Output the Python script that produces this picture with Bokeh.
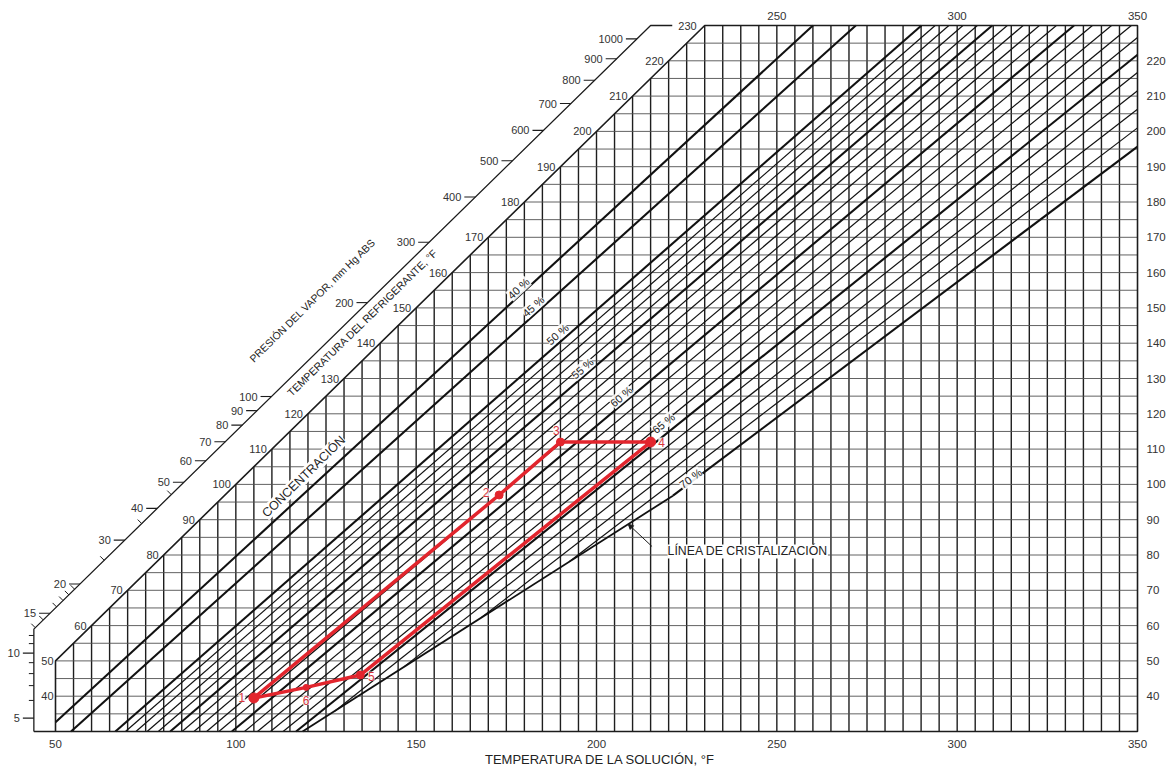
import math
import numpy as np
from bokeh.plotting import figure
from bokeh.models import Range1d, ColumnDataSource, LabelSet, Arrow, NormalHead
from bokeh.core.properties import value
from bokeh.embed import file_html
from bokeh.resources import INLINE

# ---------------- data ----------------
# concentration lines (% LiBr): start and end (solution temp °F, refrigerant temp °F)
conc_pct = [40, 45, 50, 51, 52, 53, 54, 55, 56, 57, 58, 59, 60, 61, 62, 63, 64, 65, 66, 67, 68, 69, 70]
conc_x0 = [50.0, 54.3, 66.6, 69.4, 72.3, 75.4, 78.5, 81.8, 85.1, 88.4, 91.9, 95.3, 98.9, 102.4,
           106.0, 109.6, 113.1, 116.7, 127.5, 146.6, 168.0, 192.4, 221.2]
conc_y0 = [32.6, 30.0, 30.0, 30.0, 30.0, 30.0, 30.0, 30.0, 30.0, 30.0, 30.0, 30.0, 30.0, 30.0,
           30.0, 30.0, 30.0, 30.0, 35.8, 48.3, 62.2, 78.1, 96.8]
conc_x1 = [260.0, 271.9, 290.1, 293.9, 297.7, 301.6, 305.6, 309.7, 313.9, 318.3, 322.8, 327.5, 332.4,
           337.5, 342.8, 348.3, 350.0, 350.0, 350.0, 350.0, 350.0, 350.0, 350.0]
conc_y1 = [230.0, 230.0, 230.0, 230.0, 230.0, 230.0, 230.0, 230.0, 230.0, 230.0, 230.0, 230.0, 230.0,
           230.0, 230.0, 230.0, 226.6, 221.7, 216.7, 211.5, 206.3, 201.0, 195.7]
bold_pct = [40, 45, 50, 55, 60, 65, 70]
pct_label_x = [178.4, 182.5, 189.2, 196.1, 206.9, 218.6, 226.1]
pct_label_y = [155.5, 150.4, 142.5, 132.8, 124.9, 117.3, 101.7]

# crystallization line
cryst_x = [118.5, 221.2]
cryst_y = [30.0, 96.8]

# absorption cycle (red)
cycle_id = ["1", "2", "3", "4", "5", "6"]
cycle_x = [105.0, 173.0, 190.0, 215.0, 134.5, 119.5]
cycle_y = [39.5, 97.0, 112.0, 112.0, 46.0, 42.5]

# vapour-pressure scale (mm Hg) and the refrigerant temperature (°F) at which each tick sits
p_major = [5, 10, 15, 20, 30, 40, 50, 60, 70, 80, 90, 100, 200, 300, 400, 500, 600, 700, 800, 900, 1000]
p_major_t = [33.8, 52.2, 63.5, 71.8, 84.2, 93.2, 100.6, 106.7, 112.1, 116.8, 120.9, 124.9,
             151.5, 168.6, 181.4, 191.7, 200.3, 207.9, 214.5, 220.6, 226.2]
p_minor = [6, 7, 8, 9, 11, 12, 13, 14, 16, 17, 18, 19, 25, 35, 45]
p_minor_t = [38.8, 43.0, 46.4, 49.5, 54.9, 57.2, 59.4, 61.6, 65.3, 67.1, 68.7, 70.3, 78.5, 88.9, 97.1]

bottom_ticks = [50, 100, 150, 200, 250, 300, 350]
top_ticks = [250, 300, 350]
right_ticks = [40, 50, 60, 70, 80, 90, 100, 110, 120, 130, 140, 150, 160, 170, 180, 190, 200, 210, 220]
diag_ticks = [60, 70, 80, 90, 100, 110, 120, 130, 140, 150, 160, 170, 180, 190, 200, 210, 220]
left_ticks = [40, 50]

# ---------------- frame geometry ----------------
T_BOT, T_TOP = 30, 230
X_LEFT, X_RIGHT = 50, 350
X_OUTER = 44
OUTER_OFF = 15
SX, SY = 3.6067, 3.53
W, H = 1169, 766
x_lo = X_LEFT - 55 / SX
x_hi = x_lo + W / SX
y_hi = T_TOP + 25 / SY
y_lo = y_hi - H / SY

FONT = value("Liberation Sans")
INK = "#1c1c1c"
TXT = "#333333"
RED = "#e2252d"

p = figure(width=W, height=H, x_range=Range1d(x_lo, x_hi), y_range=Range1d(y_lo, y_hi),
           x_axis_type=None, y_axis_type=None, output_backend="svg", toolbar_location=None,
           min_border=0, outline_line_color=None)
p.background_fill_color = "white"
p.border_fill_color = "white"

# grid
vx = list(range(55, 350, 5))
p.segment(vx, [T_BOT] * len(vx), vx, [min(v, T_TOP) for v in vx], line_color="#1e1e1e", line_width=1.4)
ht = list(range(35, 230, 5))
p.segment([max(X_LEFT, t) for t in ht], ht, [X_RIGHT] * len(ht), ht, line_color="#505050", line_width=0.9)

# concentration lines
widths = [2.1 if c in bold_pct else 1.2 for c in conc_pct]
csrc = ColumnDataSource(dict(x0=conc_x0, y0=conc_y0, x1=conc_x1, y1=conc_y1, w=widths))
p.segment("x0", "y0", "x1", "y1", source=csrc, line_width="w", line_color="#111111")

# crystallization line
p.line(cryst_x, cryst_y, line_color="#111111", line_width=1.8)

# chart border (left edge, 0 % diagonal, top, right, bottom)
p.line([X_LEFT, X_LEFT, T_TOP, X_RIGHT, X_RIGHT, X_OUTER],
       [T_BOT, X_LEFT, T_TOP, T_TOP, T_BOT, T_BOT], line_color=INK, line_width=1.6)

# outer (pressure) scale line
corner_t = X_OUTER + OUTER_OFF
p.line([X_OUTER, X_OUTER, T_TOP - OUTER_OFF, T_TOP - OUTER_OFF + 6],
       [T_BOT, corner_t, T_TOP, T_TOP], line_color=INK, line_width=1.3)


def xo(t):
    return X_OUTER if t <= corner_t else t - OUTER_OFF


# pressure ticks
p.segment([xo(t) - 11 / SX for t in p_major_t], p_major_t, [xo(t) for t in p_major_t], p_major_t,
          line_color=INK, line_width=1.1)
mx0, my0, mx1, my1 = [], [], [], []
for t in p_minor_t:
    if t <= corner_t:
        mx0.append(xo(t) - 5 / SX); my0.append(t)
    else:
        mx0.append(xo(t) - 4 / SX); my0.append(t + 4 / SY)
    mx1.append(xo(t)); my1.append(t)
p.segment(mx0, my0, mx1, my1, line_color=INK, line_width=1.0)
p.text([xo(t) for t in p_major_t], p_major_t, text=[str(v) for v in p_major], x_offset=-14,
       text_align="right", text_baseline="middle", text_font=FONT, text_font_size="11px", text_color=TXT)

# refrigerant temperature labels along the diagonal
p.text(diag_ticks, diag_ticks, text=[str(v) for v in diag_ticks], x_offset=-5,
       text_align="right", text_baseline="middle", text_font=FONT, text_font_size="11px", text_color=TXT)
p.text([T_TOP], [T_TOP], text=["230"], x_offset=-8, text_align="right", text_baseline="middle",
       text_font=FONT, text_font_size="11px", text_color=TXT)
p.text([X_LEFT] * len(left_ticks), left_ticks, text=[str(v) for v in left_ticks], x_offset=-2,
       text_align="right", text_baseline="middle", text_font=FONT, text_font_size="11px", text_color=TXT)

# right / bottom / top tick labels
p.text([X_RIGHT] * len(right_ticks), right_ticks, text=[str(v) for v in right_ticks], x_offset=9,
       text_align="left", text_baseline="middle", text_font=FONT, text_font_size="11.5px", text_color=TXT)
p.text(bottom_ticks, [T_BOT] * len(bottom_ticks), text=[str(v) for v in bottom_ticks], y_offset=12,
       text_align="center", text_baseline="middle", text_font=FONT, text_font_size="11.5px", text_color=TXT)
p.text(top_ticks, [T_TOP] * len(top_ticks), text=[str(v) for v in top_ticks], y_offset=-10,
       text_align="center", text_baseline="middle", text_font=FONT, text_font_size="11.5px", text_color=TXT)

# titles
p.text([(X_LEFT + X_RIGHT) / 2 + 1], [T_BOT], text=["TEMPERATURA DE LA SOLUCIÓN, °F"], y_offset=28,
       text_align="center", text_baseline="middle", text_font=FONT, text_font_size="13px", text_color="#222222")
diag_ang = math.atan2(SY, SX)
p.add_layout(LabelSet(x="x", y="y", text="t", angle="a",
                      source=ColumnDataSource(dict(x=[118.8], y=[102.2], t=["CONCENTRACIÓN"], a=[diag_ang])),
                      text_align="center", text_baseline="middle", text_font=FONT,
                      text_font_size="12.5px", text_color="#222222", background_fill_color="white"))
p.text([135.1], [145.9], text=["TEMPERATURA DEL REFRIGERANTE, °F"], angle=diag_ang, text_align="center",
       text_baseline="middle", text_font=FONT, text_font_size="10.6px", text_color="#222222")
p.text([121.3], [152.1], text=["PRESIÓN DEL VAPOR, mm Hg ABS"], angle=diag_ang, text_align="center",
       text_baseline="middle", text_font=FONT, text_font_size="10.4px", text_color="#222222")

# concentration labels
angs = []
for c in bold_pct:
    i = conc_pct.index(c)
    angs.append(math.atan2((conc_y1[i] - conc_y0[i]) * SY, (conc_x1[i] - conc_x0[i]) * SX))
psrc = ColumnDataSource(dict(x=pct_label_x, y=pct_label_y, t=[f"{c} %" for c in bold_pct], a=angs))
p.add_layout(LabelSet(x="x", y="y", text="t", angle="a", source=psrc,
                      text_align="center", text_baseline="middle", text_font=FONT,
                      text_font_size="11px", text_color="#222222",
                      background_fill_color="white", background_fill_alpha=0.9))

# crystallization label + leader
lx, ly = 219.7, 81.0
p.add_layout(LabelSet(x="x", y="y", text="t",
                      source=ColumnDataSource(dict(x=[lx], y=[ly], t=["LÍNEA DE CRISTALIZACIÓN"])),
                      text_align="left", text_baseline="middle", text_font=FONT,
                      text_font_size="12.3px", text_color="#222222", background_fill_color="white"))
tip_x = 208.8
tip_y = float(np.interp(tip_x, cryst_x, cryst_y))
p.add_layout(Arrow(end=NormalHead(size=5, fill_color=INK, line_color=INK),
                   x_start=lx - 4.3, y_start=ly + 1.4, x_end=tip_x, y_end=tip_y,
                   line_color=INK, line_width=1.0))

# cycle
p.line(cycle_x + [cycle_x[0]], cycle_y + [cycle_y[0]], line_color=RED, line_width=3.5, line_join="round")
p.scatter(cycle_x, cycle_y, size=[10, 8, 8, 10, 8, 6], color=RED)
lsrc = ColumnDataSource(dict(x=cycle_x, y=cycle_y, t=cycle_id,
                             dx=[-12, -13, -4, 11, 11, 0], dy=[0, 2, 12, 0, -1, -13]))
p.add_layout(LabelSet(x="x", y="y", text="t", source=lsrc, x_offset="dx", y_offset="dy",
                      text_align="center", text_baseline="middle", text_font=FONT,
                      text_font_size="12px", text_color="#d8343c",
                      background_fill_color="white", background_fill_alpha=0.85))

open("out.html", "w").write(file_html(p, INLINE))
